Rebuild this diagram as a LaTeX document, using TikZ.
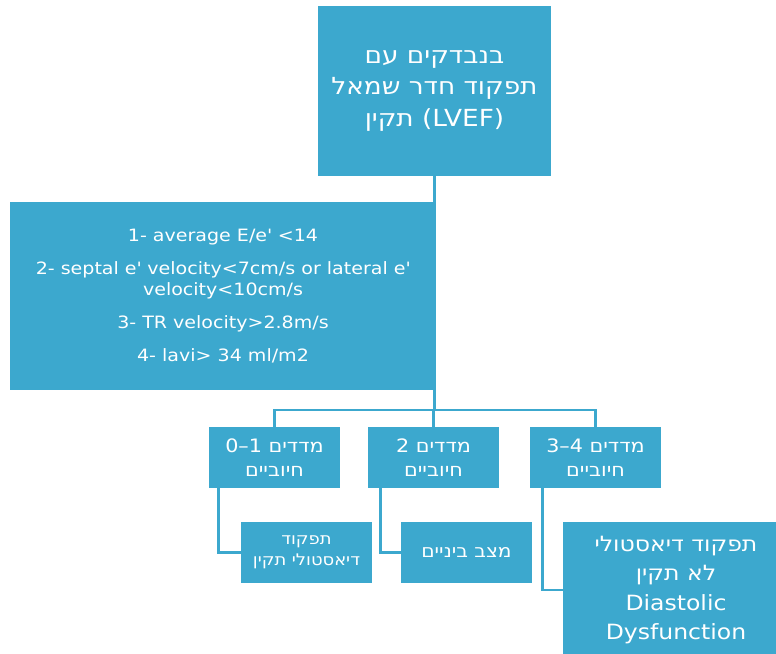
\documentclass[tikz,border=0pt]{standalone}
\usepackage{fontspec}
\setmainfont{DejaVu Sans}[FakeStretch=1.12]
\newfontfamily\hebfont[Script=Hebrew,FakeStretch=1.12]{DejaVu Sans}
\TeXXeTstate=1
\definecolor{boxblue}{RGB}{60,168,206}
\newcommand{\heb}[1]{{\hebfont\beginR #1\endR}}
\begin{document}
\begin{tikzpicture}[x=1pt,y=-1pt,
                box/.style={fill=boxblue,text=white,align=center,inner sep=0pt},
                link/.style={draw=boxblue,line width=2.8pt}]
                \useasboundingbox (0,0) rectangle (776,653);
                \node[box,minimum width=233pt,minimum height=170pt,font=\fontsize{23.5}{31.5}\selectfont] (top) at (434.5,91)
                    {\heb{בנבדקים עם}\\ \heb{תפקוד חדר שמאל}\\ \heb{{\normalfont\beginL(LVEF)\endL} תקין}};
                \node[box,minimum width=426pt,minimum height=188pt,font=\fontsize{17}{21}\selectfont] (crit) at (223,296)
                    {1- average E/e\textquotesingle{} <14\\[12pt]
                     2- septal e\textquotesingle{} velocity<7cm/s or lateral e\textquotesingle\\
                     velocity<10cm/s\\[12pt]
                     3- TR velocity>2.8m/s\\[12pt]
                     4- lavi> 34 ml/m2};
                \node[box,minimum width=131pt,minimum height=61pt,font=\fontsize{18.5}{24}\selectfont] (m1) at (274.5,457.5)
                    {\heb{מדדים {\normalfont\beginL 0–1\endL}}\\ \heb{חיוביים}};
                \node[box,minimum width=131pt,minimum height=61pt,font=\fontsize{18.5}{24}\selectfont] (m2) at (433.5,457.5)
                    {\heb{מדדים {\normalfont\beginL 2\endL}}\\ \heb{חיוביים}};
                \node[box,minimum width=131pt,minimum height=61pt,font=\fontsize{18.5}{24}\selectfont] (m3) at (595.5,457.5)
                    {\heb{מדדים {\normalfont\beginL 3–4\endL}}\\ \heb{חיוביים}};
                \node[box,minimum width=131pt,minimum height=61pt,font=\fontsize{16}{21}\selectfont] (o1) at (306.5,552.5)
                    {\heb{תפקוד}\\ \heb{דיאסטולי תקין}};
                \node[box,minimum width=131pt,minimum height=61pt,font=\fontsize{18}{21}\selectfont] (o2) at (466.5,552.5)
                    {\heb{מצב ביניים}};
                \node[box,minimum width=226pt,minimum height=136pt,font=\fontsize{21}{29.5}\selectfont] (o3) at (676,590)
                    {\heb{תפקוד דיאסטולי}\\ \heb{לא תקין}\\ Diastolic\\ Dysfunction};
                \coordinate (bus) at (434.5,410);
                \draw[link] (top.south) -- (top.south |- crit.north);
                \draw[link] (top.south |- crit.south) -- (bus);
                \draw[link] (m1.north) |- (bus) -| (m3.north);
                \draw[link] (bus) -- (bus -| m2.north) -- (m2.north);
                \draw[link] ([xshift=10pt]m1.south west) |- (o1.west);
                \draw[link] ([xshift=13pt]m2.south west) |- (o2.west);
                \draw[link] ([xshift=13pt]m3.south west) |- (o3.west);
            \end{tikzpicture}
\end{document}
